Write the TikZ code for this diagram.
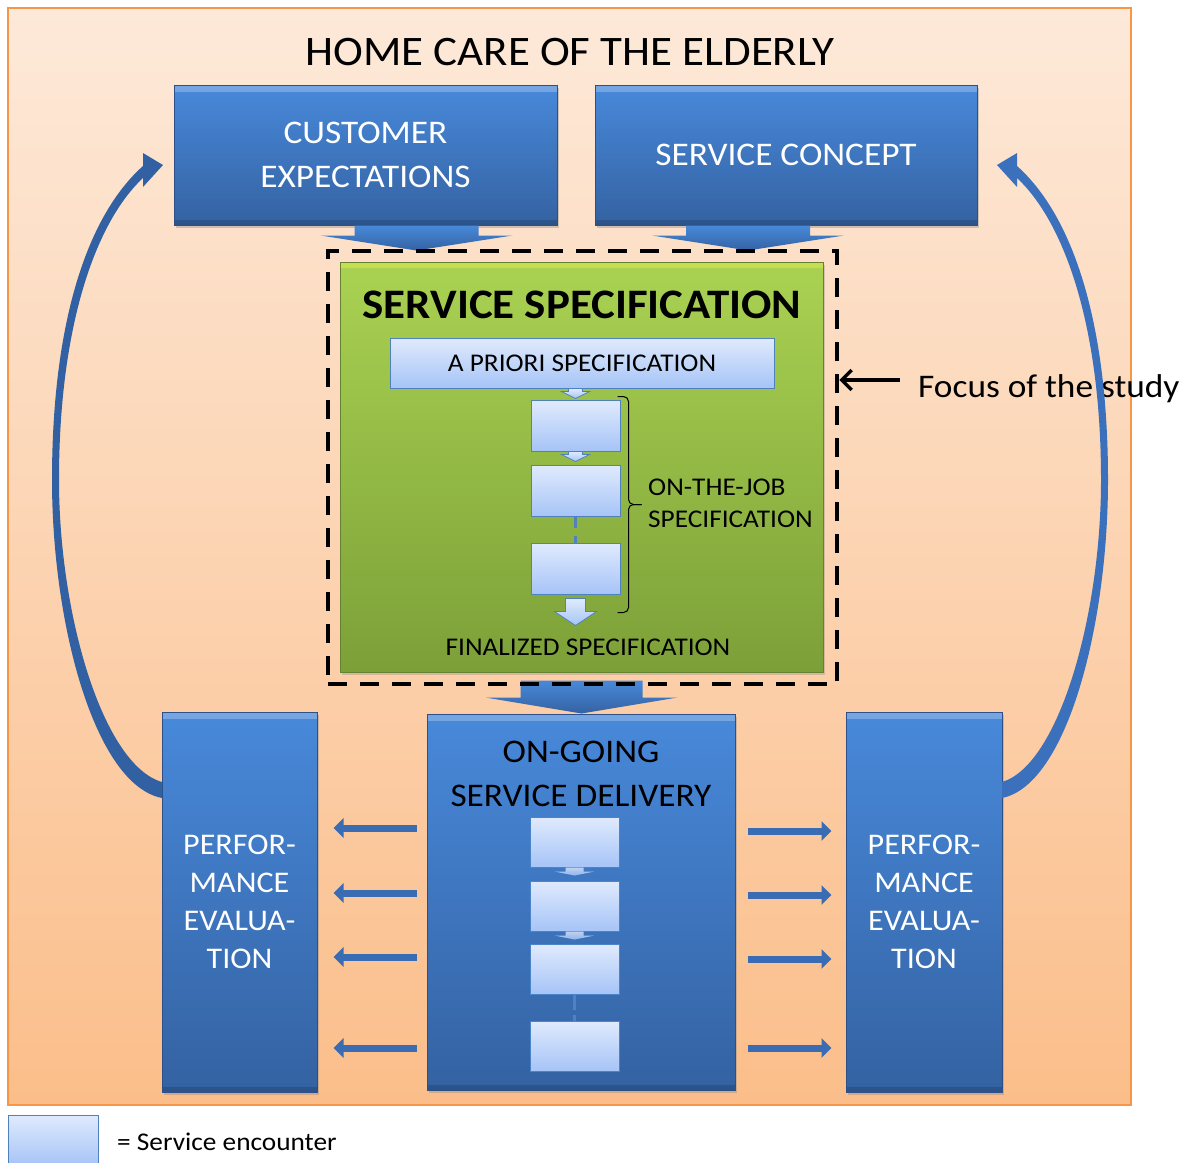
\documentclass[tikz,border=0pt]{standalone}
\usepackage{fontspec}
\setmainfont{Carlito}[FakeStretch=1.07]
\usetikzlibrary{arrows.meta,calc,shadows}

\definecolor{bgtop}{RGB}{253,233,217}
\definecolor{bgbot}{RGB}{251,190,138}
\definecolor{bgline}{RGB}{247,150,70}
\definecolor{bluetop}{RGB}{72,137,218}
\definecolor{bluebot}{RGB}{52,98,162}
\definecolor{blueline}{RGB}{44,80,135}
\definecolor{greentop}{RGB}{170,210,82}
\definecolor{greenbot}{RGB}{124,160,56}
\definecolor{greenline}{RGB}{100,130,50}
\definecolor{enctop}{RGB}{224,234,253}
\definecolor{encbot}{RGB}{166,196,247}
\definecolor{encline}{RGB}{79,129,189}
\definecolor{arrowblue}{RGB}{58,108,180}
\definecolor{curveL}{RGB}{50,97,163}
\definecolor{curveR}{RGB}{58,112,188}

% wide block arrow pointing down: top point, shaft half width, head half width, shaft length, head length
\newcommand{\blockarrow}[6][bigarrow]{%
  \path[#1] (#2) ++(-#3,0) -- ++(0,#5) -- ++(#3-#4,0) -- ++(#4,#6) -- ++(#4,-#6) -- ++(#3-#4,0) -- ++(0,-#5) -- cycle;}

\begin{document}
\begin{tikzpicture}
  [x=1pt, y=-1pt,
   bgbox/.style={draw=bgline, line width=1.5pt, top color=bgtop, bottom color=bgbot, inner sep=0pt},
   bluebox/.style={draw=blueline, line width=1pt, top color=bluetop, bottom color=bluebot, text=white, align=center, inner sep=0pt,
     drop shadow={shadow xshift=2pt, shadow yshift=-3pt, opacity=.35},
     path picture={\fill[white, opacity=.25] (path picture bounding box.north west) rectangle ([yshift=-7pt]path picture bounding box.north east);
                   \fill[black, opacity=.15] (path picture bounding box.south west) rectangle ([yshift=5pt]path picture bounding box.south east);}},
   greenbox/.style={draw=greenline, line width=1pt, top color=greentop, bottom color=greenbot, inner sep=0pt,
     drop shadow={shadow xshift=2pt, shadow yshift=-3pt, opacity=.3},
     path picture={\fill[yellow!70!white, opacity=.35] (path picture bounding box.north west) rectangle ([yshift=-6pt]path picture bounding box.north east);}},
   encbox/.style={draw=encline, line width=1pt, top color=enctop, bottom color=encbot, minimum width=89pt, minimum height=51pt, inner sep=0pt},
   focusbox/.style={draw=black, line width=4.5pt, dash pattern=on 19pt off 13pt, inner sep=0pt},
   bigarrow/.style={top color=bluetop, bottom color=bluebot},
   smallarrow/.style={draw=encline, line width=.8pt, top color=enctop, bottom color=encbot},
   sidearrow/.style={draw=arrowblue, line width=7pt, -{Triangle[width=19pt, length=10pt]}},
   focusarrow/.style={draw=black, line width=3.5pt, -{Straight Barb[length=10pt, width=20pt]}},
   bracket/.style={draw=black, line width=1pt, rounded corners=5pt},
   txt/.style={inner sep=0pt, align=center}]

  \useasboundingbox (0,0) rectangle (1190,1162);

  \node[bgbox, minimum width=1123pt, minimum height=1097pt] (bg) at (569.5,556.5) {};
  \node[txt, font=\fontsize{42}{50}\selectfont] (title) at (570,52) {HOME CARE OF THE ELDERLY};

  % top row
  \node[bluebox, minimum width=383pt, minimum height=140pt, font=\fontsize{33}{44}\selectfont] (cust) at (365.5,155) {CUSTOMER\\EXPECTATIONS};
  \node[bluebox, minimum width=382pt, minimum height=140pt, font=\fontsize{33}{44}\selectfont] (concept) at (786,155) {SERVICE CONCEPT};

  \blockarrow{$(cust.south)+(51,0)$}{62}{96}{10}{15}
  \blockarrow{$(concept.south)+(-38,0)$}{62}{96}{10}{15}

  % specification
  \node[greenbox, minimum width=483pt, minimum height=410pt] (spec) at (581.5,467) {};
  \node[txt, font=\bfseries\fontsize{42}{50}\selectfont] (spectitle) at (582,305) {SERVICE SPECIFICATION};
  \node[encbox, minimum width=384pt, minimum height=50pt, font=\fontsize{25.5}{30}\selectfont] (apriori) at (582,363) {A PRIORI SPECIFICATION};
  \node[encbox] (sp1) at (575.5,425.5) {};
  \node[encbox] (sp2) at (575.5,491) {};
  \node[encbox] (sp3) at (575.5,568.5) {};

  \blockarrow[smallarrow]{apriori.south -| sp1.north}{7}{14}{3}{7}
  \blockarrow[smallarrow]{sp1.south}{7}{14}{3}{7}
  \draw[encline, line width=3pt, dash pattern=on 11pt off 8pt] (sp2.south) -- (sp3.north);
  \blockarrow[smallarrow]{$(sp3.south)+(0,4)$}{10}{21}{13}{14}

  \coordinate (btop) at ($(sp1.north east)+(-3,-3)$);
  \coordinate (bbot) at ($(sp3.south east)+(-3,18)$);
  \draw[bracket] (btop) -- ++(11,0) |- ($(btop)!.5!(bbot)+(24,0)$);
  \draw[bracket] (bbot) -- ++(11,0) |- ($(btop)!.5!(bbot)+(24,0)$);
  \node[txt, anchor=west, align=left, font=\fontsize{25.5}{32}\selectfont] (onjob) at (648,503) {ON-THE-JOB\\SPECIFICATION};
  \node[txt, font=\fontsize{25.5}{30}\selectfont] (final) at (588,647) {FINALIZED SPECIFICATION};

  % delivery
  \blockarrow{$(spec.south)+(0,8)$}{61}{96}{17}{16}
  \node[focusbox, minimum width=509pt, minimum height=433pt] (focus) at (582.5,467.5) {};

  \node[bluebox, minimum width=308pt, minimum height=376pt] (delivery) at (581,902) {};
  \node[txt, font=\fontsize{33}{44}\selectfont] (deltitle) at (581,774) {ON-GOING\\SERVICE DELIVERY};
  \node[encbox, draw=encline!60!bluetop, minimum height=50pt] (dl1) at (574.5,842) {};
  \node[encbox, draw=encline!60!bluetop, minimum height=50pt] (dl2) at (574.5,906) {};
  \node[encbox, draw=encline!60!bluetop, minimum height=50pt] (dl3) at (574.5,969) {};
  \node[encbox, draw=encline!60!bluetop, minimum height=50pt] (dl4) at (574.5,1046) {};
  \blockarrow[smallarrow, draw=none, opacity=.8]{dl1.south}{9}{20}{4}{4}
  \blockarrow[smallarrow, draw=none, opacity=.8]{dl2.south}{9}{20}{4}{4}
  \draw[encline!70!bluetop, line width=3pt, dash pattern=on 15pt off 5pt] (dl3.south) -- (dl4.north);

  \node[bluebox, minimum width=155pt, minimum height=380pt, font=\fontsize{30}{38}\selectfont] (perfL) at (239.5,902) {PERFOR-\\MANCE\\EVALUA-\\TION};
  \node[bluebox, minimum width=156pt, minimum height=380pt, font=\fontsize{30}{38}\selectfont] (perfR) at (924,902) {PERFOR-\\MANCE\\EVALUA-\\TION};

  \foreach \y in {828,893,957,1048}
    \draw[sidearrow] ($(delivery.west |- 0,\y)+(-10,0)$) -- ($(perfL.east |- 0,\y)+(16,0)$);
  \foreach \y in {831,895,959,1048}
    \draw[sidearrow] ($(delivery.east |- 0,\y)+(12,0)$) -- ($(perfR.west |- 0,\y)+(-14,0)$);

  % focus label
  \node[txt, anchor=base west, font=\fontsize{33}{40}\selectfont] (focustxt) at (918,397) {Focus of the study};
  \coordinate (focusstart) at ($(focustxt.base west)+(-18,-17)$);
  \draw[focusarrow] (focusstart) -- (focusstart -| focus.east);

  % feedback loops
  \fill[curveL] (162,798) .. controls (95,785) and (52,625) .. (52,480)
    .. controls (52,320) and (88,215) .. (143,166) -- (143,153) -- (163,165) -- (143,187) -- (143,178)
    .. controls (96,222) and (59,325) .. (59,480) .. controls (59,615) and (103,765) .. (162,782) -- cycle;
  \fill[curveR] (1002,798) .. controls (1067,785) and (1108,625) .. (1108,480)
    .. controls (1108,320) and (1072,215) .. (1017,166) -- (1017,153) -- (997,165) -- (1017,187) -- (1017,178)
    .. controls (1064,222) and (1101,325) .. (1101,480) .. controls (1101,615) and (1059,765) .. (1002,782) -- cycle;

  % legend
  \node[encbox, minimum width=90pt, minimum height=50pt] (legend) at (53,1140) {};
  \node[txt, anchor=west, font=\fontsize{25.5}{30}\selectfont] (legendtxt) at (117,1142) {= Service encounter};
\end{tikzpicture}
\end{document}
